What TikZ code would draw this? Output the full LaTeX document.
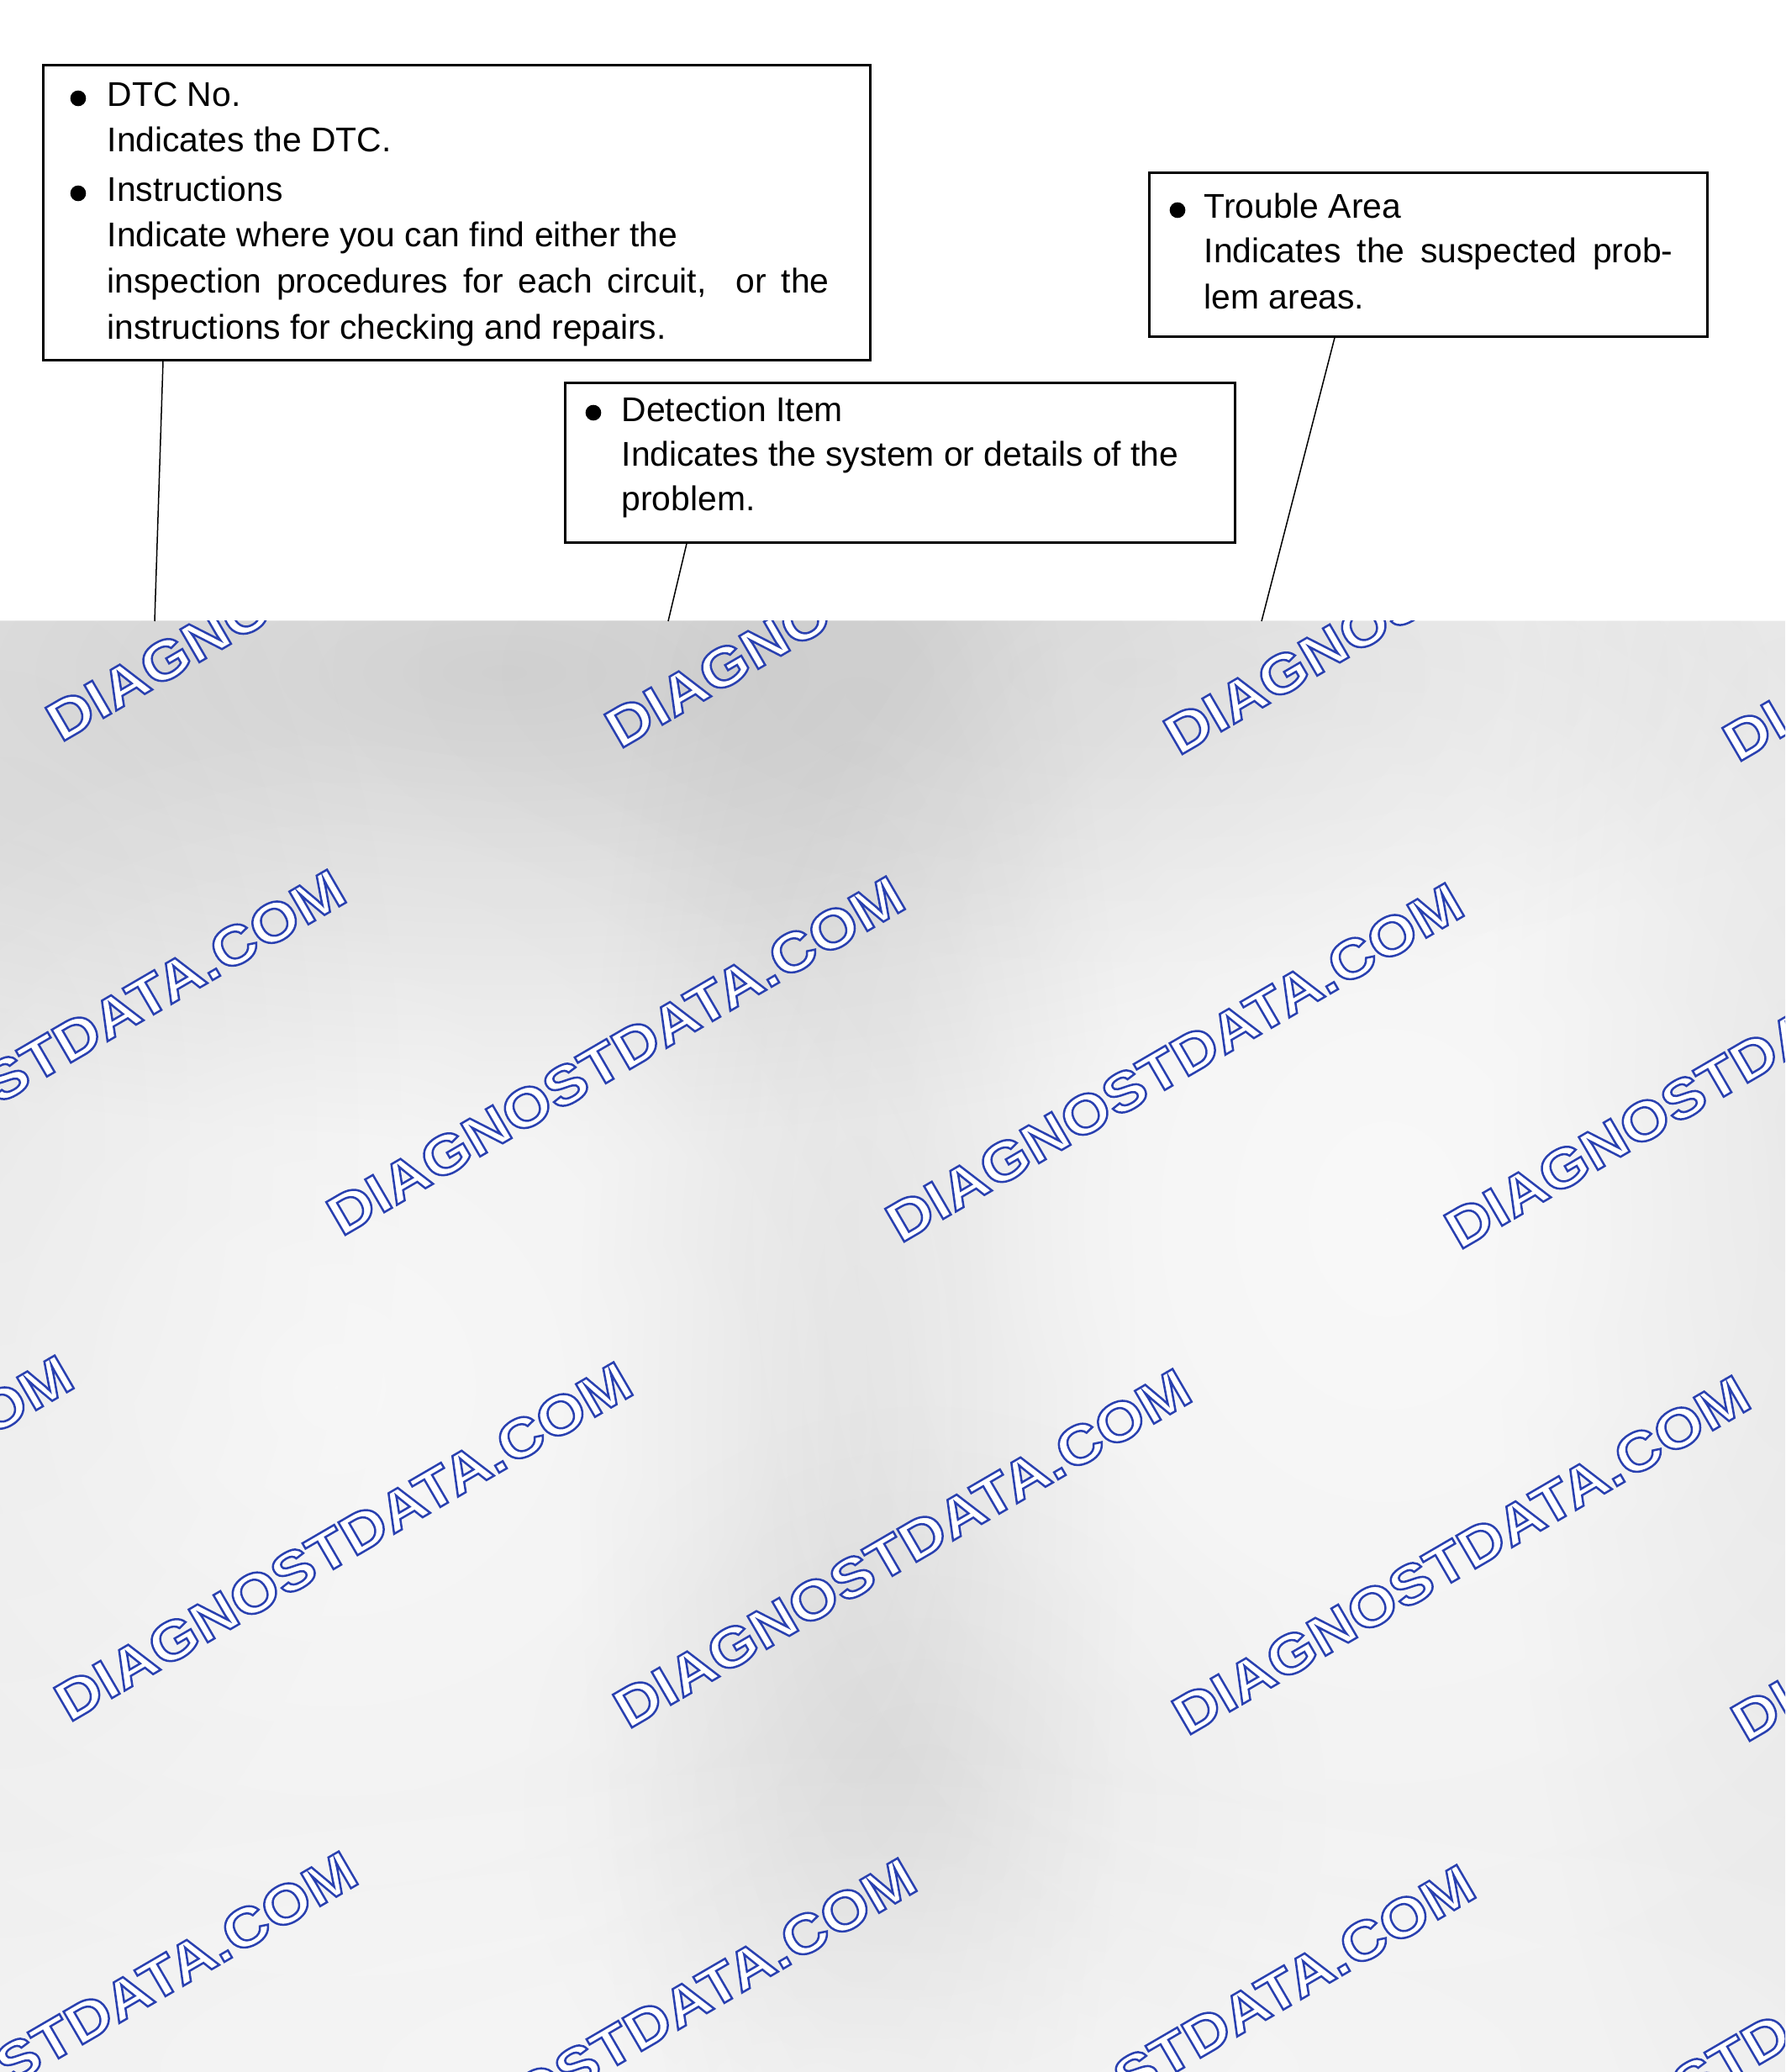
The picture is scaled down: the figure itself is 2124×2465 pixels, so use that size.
\documentclass[tikz,border=0pt]{standalone}
\usepackage{fontspec}
\setmainfont{Liberation Sans}
\newfontfamily\wmfont[FakeStretch=1.13]{Liberation Sans Bold}
\usetikzlibrary{fadings}
\tikzfading[name=blob, inner color=transparent!0, outer color=transparent!100]
\newcommand{\wmtext}{{\color{white}\special{pdf:literal direct 2 Tr 0.75 w 0.16 0.25 0.69 RG}DIAGNOSTDATA.COM\special{pdf:literal direct 0 Tr}}}
\begin{document}
\begin{tikzpicture}[x=0.3pt,y=-0.3pt,
  box/.style={draw, line width=0.8pt, inner sep=0pt, anchor=north west},
  txt/.style={anchor=base west, inner sep=0pt, font=\fontsize{12.25}{15}\selectfont},
  bul/.style={circle, fill=black, inner sep=0pt, minimum size=5.6pt},
  leader/.style={line width=0.45pt},
  wm/.style={anchor=base west, inner sep=0pt, rotate=30.2, font=\wmfont\fontsize{19.7}{19.7}\selectfont}]
\useasboundingbox (0,0) rectangle (2124,2465);
\fill[white] (0,0) rectangle (2124,2465);
% gray lower region
\begin{scope}
  \clip (0,739) rectangle (2124,2465);
  \fill[black!6] (0,739) rectangle (2124,2465);
  \fill[black, opacity=0.12, path fading=blob] (600,800) ellipse [x radius=1500, y radius=560];
  \fill[black, opacity=0.04, path fading=blob] (1350,800) ellipse [x radius=1000, y radius=360];
  \fill[black, opacity=0.07, path fading=blob] (1020,1700) ellipse [x radius=340, y radius=1400];
  \fill[black, opacity=0.04, path fading=blob] (1100,2150) ellipse [x radius=500, y radius=500];
  \fill[black, opacity=0.05, path fading=blob] (2124,1350) ellipse [x radius=360, y radius=1400];
  \fill[black, opacity=0.04, path fading=blob] (0,1350) ellipse [x radius=500, y radius=1000];
  \fill[white, opacity=0.6, path fading=blob] (1650,1450) ellipse [x radius=800, y radius=1000];
  \fill[white, opacity=0.5, path fading=blob] (400,1650) ellipse [x radius=800, y radius=800];
  \fill[white, opacity=0.4, path fading=blob] (1000,2465) ellipse [x radius=1600, y radius=400];
  \foreach \k in {-1,...,3} {
    \node[wm] (wa\k) at ({72+665*\k},{884+8*\k}) {\wmtext};
    \node[wm] (wc\k) at ({82+665*\k},{2050+8*\k}) {\wmtext};
  }
  \foreach \k in {0,...,4} {
    \node[wm] (wb\k) at ({406+665*(\k-1)},{1472+8*(\k-1)}) {\wmtext};
    \node[wm] (wd\k) at ({420+665*(\k-1)},{2640+8*(\k-1)}) {\wmtext};
  }
\end{scope}
% boxes
\node[box, minimum width=295.2pt, minimum height=105.3pt] (dtc) at (50,76) {};
\node[box, minimum width=239.1pt, minimum height=57pt] (det) at (671,454) {};
\node[box, minimum width=199.2pt, minimum height=58.5pt] (tro) at (1366,204) {};
% box 1 text
\node[bul] (b11) at (93,117) {};
\node[txt] (t11) at (127,127) {DTC No.};
\node[txt] (t12) at (127,181) {Indicates the DTC.};
\node[bul] (b12) at (93,230) {};
\node[txt] (t13) at (127,240) {Instructions};
\node[txt] (t14) at (127,294) {Indicate where you can find either the};
\node[txt] (t15) at (127,349) {\makebox[257.7pt][s]{inspection procedures for each circuit,\ \ or the}};
\node[txt] (t16) at (127,404) {instructions for checking and repairs.};
% box 2 text
\node[bul] (b21) at (706,491) {};
\node[txt] (t21) at (739,502) {Detection Item};
\node[txt] (t22) at (739,555) {Indicates the system or details of the};
\node[txt] (t23) at (739,608) {problem.};
% box 3 text
\node[bul] (b31) at (1401,250) {};
\node[txt] (t31) at (1432,260) {Trouble Area};
\node[txt] (t32) at (1432,313) {\makebox[167.4pt][s]{Indicates the suspected prob-}};
\node[txt] (t33) at (1432,368) {lem areas.};
% leader lines
\coordinate (e1) at (184,739);
\coordinate (e2) at (795,739);
\coordinate (e3) at (1501,739);
\draw[leader] (dtc.south west) ++(144,0) -- (e1);
\draw[leader] (det.south west) ++(146,0) -- (e2);
\draw[leader] (tro.south west) ++(222,0) -- (e3);
\end{tikzpicture}
\end{document}
